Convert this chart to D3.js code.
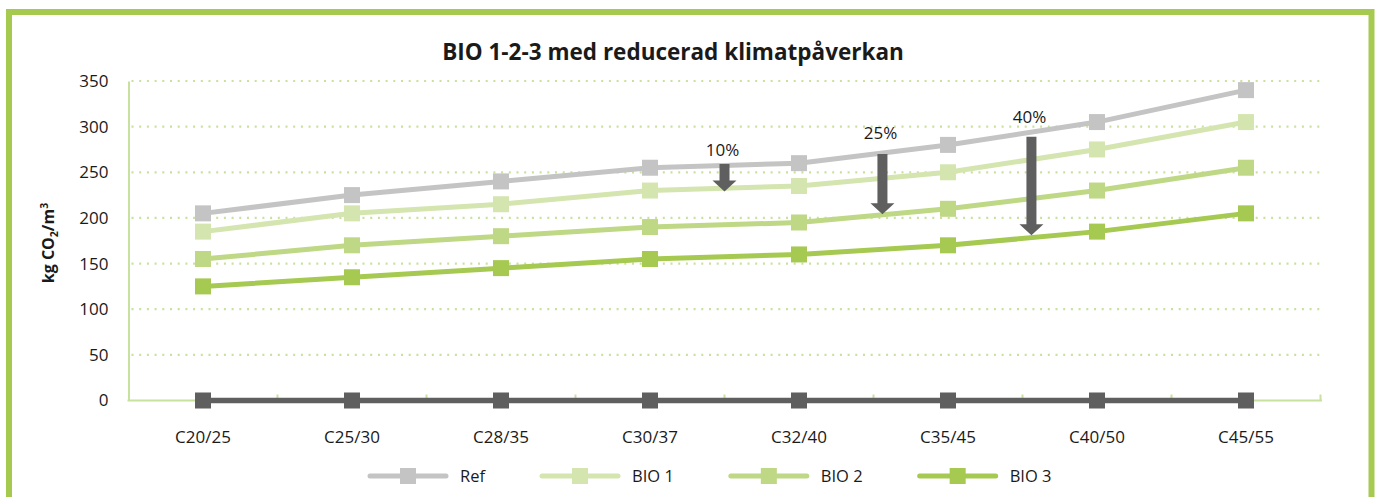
<!DOCTYPE html>
<html>
<head>
<meta charset="utf-8">
<script src="https://cdn.jsdelivr.net/npm/d3@7"></script>
<style>
  html, body { margin: 0; padding: 0; background: #fff; }
  svg { display: block; }
  text { font-family: "Open Sans", sans-serif; fill: #1a1a1a; }
</style>
</head>
<body>
<svg id="chart" width="1378" height="497"></svg>
<script>
// ---- Data ----
const categories = ["C20/25", "C25/30", "C28/35", "C30/37", "C32/40", "C35/45", "C40/50", "C45/55"];
const seriesNames = ["Ref", "BIO 1", "BIO 2", "BIO 3"];
const refValues  = [205, 225, 240, 255, 260, 280, 305, 340];
const bio1Values = [185, 205, 215, 230, 235, 250, 275, 305];
const bio2Values = [155, 170, 180, 190, 195, 210, 230, 255];
const bio3Values = [125, 135, 145, 155, 160, 170, 185, 205];
const baseValues = [0, 0, 0, 0, 0, 0, 0, 0];
const yTicks = [0, 50, 100, 150, 200, 250, 300, 350];
// reduction arrows: position (category index, fractional), top value, tip value, label, label value
const arrowPos    = [3.5, 4.56, 5.56];
const arrowTop    = [259, 270, 289];
const arrowTip    = [229, 204, 181];
const arrowLabels = ["10%", "25%", "40%"];
const arrowLabelY = [268, 287, 304];

const colors = ["#c4c4c4", "#d4e5b0", "#bed886", "#a5c951"];
const baseColor = "#5f5f5f";
const gridColor = "#c8e19e";
const frameColor = "#a6c950";

const svg = d3.select("#chart");

// frame
svg.append("rect").attr("x", 9).attr("y", 12).attr("width", 1362.5).attr("height", 520)
  .attr("fill", "#fff").attr("stroke", frameColor).attr("stroke-width", 6);

const mLeft = 128.5, mRight = 1320.5, mTop = 81, mBottom = 400.5;

const x = d3.scaleBand().domain(categories).range([mLeft, mRight]).padding(0);
const y = d3.scaleLinear().domain([0, 350]).range([mBottom, mTop]);
const cx = c => x(c) + x.bandwidth() / 2;
const xi = i => mLeft + (i + 0.5) * x.bandwidth();

// gridlines
svg.append("g").selectAll("line").data(yTicks.filter(d => d > 0)).join("line")
  .attr("x1", mLeft + 3).attr("x2", mRight + 2)
  .attr("y1", d => y(d)).attr("y2", d => y(d))
  .attr("stroke", gridColor).attr("stroke-width", 2.2)
  .attr("stroke-dasharray", "2,5.7");

// y axis
const yAxis = svg.append("g").attr("transform", `translate(${mLeft},0)`)
  .call(d3.axisLeft(y).tickValues(yTicks).tickSize(0).tickPadding(20));
yAxis.select(".domain").attr("stroke", gridColor).attr("stroke-width", 2);
yAxis.selectAll("text").style("font-size", "17px").style("font-family", "Open Sans").attr("fill", "#1a1a1a");

// x axis
const xAxis = svg.append("g").attr("transform", `translate(0,${mBottom})`)
  .call(d3.axisBottom(x).tickSize(0).tickPadding(30));
xAxis.select(".domain").remove();
xAxis.selectAll("text").style("font-size", "17px").style("font-family", "Open Sans").attr("fill", "#1a1a1a");
svg.append("line").attr("x1", mLeft - 1).attr("x2", mRight + 1.5).attr("y1", mBottom).attr("y2", mBottom)
  .attr("stroke", gridColor).attr("stroke-width", 2);
const bounds = categories.map(c => x(c)).concat([mRight]);
svg.append("g").selectAll("line").data(bounds.slice(1)).join("line")
  .attr("x1", d => d).attr("x2", d => d).attr("y1", mBottom).attr("y2", mBottom - 6)
  .attr("stroke", gridColor).attr("stroke-width", 2);

// series
const allSeries = [refValues, bio1Values, bio2Values, bio3Values];
const line = d3.line().x((d, i) => cx(categories[i])).y(d => y(d));

function drawSeries(vals, color, width) {
  const g = svg.append("g");
  g.append("path").datum(vals).attr("d", line).attr("fill", "none")
    .attr("stroke", color).attr("stroke-width", width);
  g.selectAll("rect").data(vals).join("rect")
    .attr("x", (d, i) => cx(categories[i]) - 8).attr("y", d => y(d) - 8)
    .attr("width", 16).attr("height", 16).attr("fill", color);
}
drawSeries(baseValues, baseColor, 5.5);
allSeries.forEach((v, k) => drawSeries(v, colors[k], 5));

// arrows
arrowPos.forEach((p, k) => {
  const ax = xi(p);
  const ya = y(arrowTop[k]), yb = y(arrowTip[k]);
  const headH = 11, shaftW = 10, headW = 24;
  const pts = [
    [ax - shaftW/2, ya], [ax + shaftW/2, ya], [ax + shaftW/2, yb - headH],
    [ax + headW/2, yb - headH], [ax, yb], [ax - headW/2, yb - headH], [ax - shaftW/2, yb - headH]
  ];
  svg.append("path").attr("d", "M" + pts.map(q => q.join(",")).join("L") + "Z").attr("fill", baseColor);
  svg.append("text").attr("x", ax - 2).attr("y", y(arrowLabelY[k]))
    .attr("text-anchor", "middle").style("font-size", "17px").text(arrowLabels[k]);
});

// title
svg.append("text").attr("x", 673).attr("y", 60).attr("text-anchor", "middle")
  .style("font-size", "22.5px").style("font-weight", "bold").text("BIO 1-2-3 med reducerad klimatpåverkan");

// y title
const yTitle = svg.append("text").attr("transform", "translate(54,243) rotate(-90)")
  .attr("text-anchor", "middle").style("font-size", "16px").style("font-weight", "bold");
yTitle.append("tspan").text("kg CO");
yTitle.append("tspan").attr("dy", 4).style("font-size", "10.5px").text("2");
yTitle.append("tspan").attr("dy", -4).text("/m");
yTitle.append("tspan").attr("dy", -6).style("font-size", "10.5px").text("3");

// legend
const lg = svg.append("g");
let lx = 368;
const ly = 476;
seriesNames.forEach((n, k) => {
  lg.append("line").attr("x1", lx + 2).attr("x2", lx + 78).attr("y1", ly).attr("y2", ly)
    .attr("stroke", colors[k]).attr("stroke-width", 5).attr("stroke-linecap", "round");
  lg.append("rect").attr("x", lx + 32).attr("y", ly - 8).attr("width", 16).attr("height", 16).attr("fill", colors[k]);
  const t = lg.append("text").attr("x", lx + 92).attr("y", ly + 6).style("font-size", "16.5px").text(n);
  const w = t.node().getComputedTextLength();
  lx = lx + 92 + w + 55;
});
</script>
</body>
</html>
